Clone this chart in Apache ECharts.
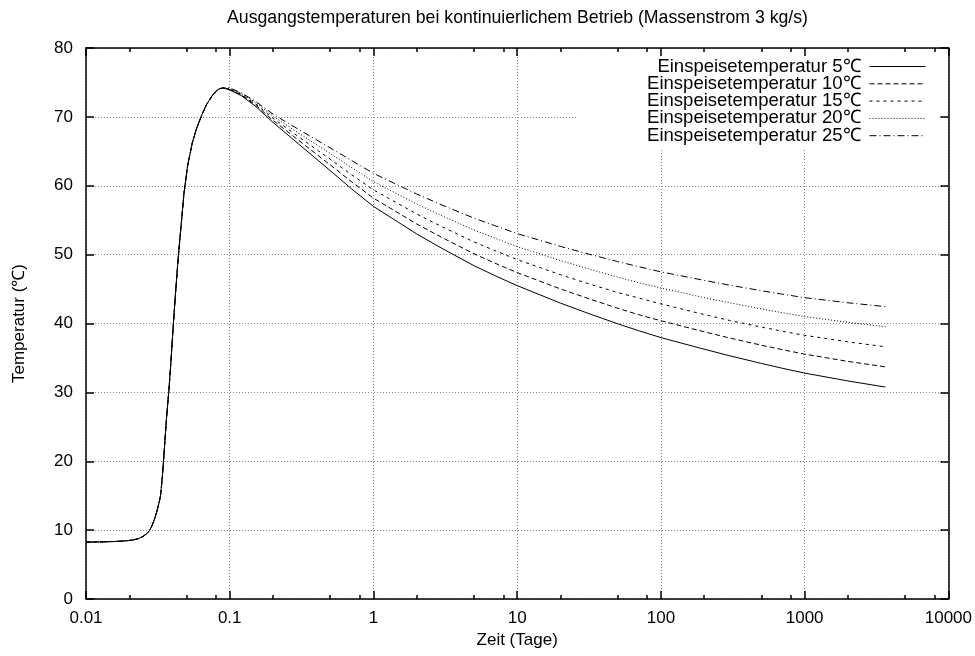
<!DOCTYPE html>
<html>
<head>
<meta charset="utf-8">
<script src="https://cdn.jsdelivr.net/npm/echarts@6/dist/echarts.min.js"></script>
<style>
html, body { margin: 0; padding: 0; background: #fff; }
#chart { width: 975px; height: 656px; }
</style>
</head>
<body>
<div id="chart"></div>
<script>
// ---------- data ----------
const titleText = 'Ausgangstemperaturen bei kontinuierlichem Betrieb (Massenstrom 3 kg/s)';
const xAxisName = 'Zeit (Tage)';
const yAxisName = 'Temperatur (℃)';
const seriesNames = [
  'Einspeisetemperatur 5℃',
  'Einspeisetemperatur 10℃',
  'Einspeisetemperatur 15℃',
  'Einspeisetemperatur 20℃',
  'Einspeisetemperatur 25℃'
];
const xMinorTicks = [0.02, 0.05, 0.08, 0.2, 0.5, 0.8, 2, 5, 8, 20, 50, 80, 200, 500, 800, 2000, 5000, 8000];
const yTicks = [0, 10, 20, 30, 40, 50, 60, 70, 80];

// common start-up part (identical for all feed temperatures)
const riseDays = [0.01, 0.013, 0.016, 0.019, 0.021, 0.023, 0.025, 0.0265, 0.0278, 0.029, 0.030, 0.031, 0.032, 0.033, 0.034, 0.0345, 0.0354, 0.0364, 0.0378, 0.039, 0.0405, 0.042, 0.0438, 0.046, 0.048, 0.051, 0.055, 0.059, 0.064, 0.069, 0.075, 0.08, 0.085, 0.09];
const riseTemp = [8.25, 8.3, 8.35, 8.45, 8.55, 8.75, 9.1, 9.5, 10.0, 10.8, 11.6, 12.6, 13.7, 15.0, 17.8, 19.6, 23.0, 26.5, 30.5, 34.5, 39.8, 44.5, 49.5, 54.5, 58.8, 63.0, 66.3, 68.4, 70.3, 71.8, 73.0, 73.7, 74.1, 74.2];

// decay part, one array per feed temperature
const decayDays = [0.1, 0.12, 0.15, 0.2, 0.3, 0.5, 0.7, 1, 2, 3, 5, 7, 10, 20, 30, 50, 70, 100, 200, 300, 500, 700, 1000, 2000, 3650];
const feed5  = [73.9, 73.1, 71.6, 69.2, 66.1, 62.2, 59.6, 57.0, 53.0, 50.9, 48.4, 46.95, 45.5, 42.96, 41.6, 39.96, 38.96, 37.95, 36.27, 35.32, 34.2, 33.5, 32.8, 31.66, 30.77];
const feed10 = [73.98, 73.2, 71.78, 69.5, 66.63, 63.03, 60.63, 58.2, 54.45, 52.48, 50.13, 48.76, 47.39, 45.02, 43.75, 42.22, 41.28, 40.4, 38.8, 37.9, 36.85, 36.2, 35.55, 34.5, 33.7];
const feed15 = [74.05, 73.3, 71.95, 69.8, 67.15, 63.85, 61.65, 59.4, 55.9, 54.05, 51.85, 50.58, 49.28, 47.08, 45.9, 44.5, 43.7, 42.85, 41.3, 40.45, 39.48, 38.88, 38.28, 37.34, 36.61];
const feed20 = [74.13, 73.4, 72.13, 70.1, 67.68, 64.68, 62.68, 60.6, 57.35, 55.63, 53.58, 52.39, 51.16, 49.14, 48.04, 46.73, 45.93, 45.15, 43.76, 43.01, 42.12, 41.57, 41.01, 40.17, 39.53];
const feed25 = [74.2, 73.5, 72.3, 70.4, 68.2, 65.5, 63.7, 61.8, 58.8, 57.2, 55.3, 54.2, 53.05, 51.2, 50.19, 48.99, 48.25, 47.5, 46.26, 45.57, 44.76, 44.26, 43.75, 43.01, 42.45];

// ---------- chart ----------
const FONT = "'Liberation Sans', Arial, sans-serif";
const feeds = [feed5, feed10, feed15, feed20, feed25];
const dashes = ['solid', [5, 3], [3, 4], [1, 2], [7, 3, 1, 3]];

function buildPoints(decay) {
  const pts = riseDays.map((d, i) => [d, riseTemp[i]]);
  decayDays.forEach((d, i) => pts.push([d, decay[i]]));
  return pts;
}

function fmtX(v) {
  const e = Math.round(Math.log10(v));
  return e < 0 ? v.toFixed(-e) : String(Math.round(v));
}

const axisLineStyle = { color: '#000', width: 1.5 };
const tickStyle = { color: '#000', width: 1.5 };
const gridLineStyle = { color: '#888', width: 1, type: [1, 2] };

const option = {
  animation: false,
  backgroundColor: '#fff',
  title: {
    text: titleText,
    left: 227, top: 9, padding: 0,
    textStyle: { fontFamily: FONT, fontSize: 17.7, fontWeight: 'normal', color: '#000' }
  },
  grid: { left: 86, right: 26, top: 48, bottom: 57, containLabel: false },
  legend: seriesNames.map((n, i) => ({
    data: [n],
    orient: 'vertical',
    align: 'right',
    right: 49,
    top: 57 + i * 17.3,
    padding: 0,
    itemWidth: 56,
    itemHeight: 16,
    selectedMode: false,
    itemStyle: { color: 'rgba(0,0,0,0)', borderWidth: 0, opacity: 0 },
    lineStyle: { width: 1 },
    textStyle: { fontFamily: FONT, fontSize: 18.5, color: '#000', lineHeight: 16, padding: [0, 4, 0, 0] }
  })),
  graphic: [{
    type: 'rect', z: 1, silent: true,
    shape: { x: 578, y: 49, width: 362, height: 101 },
    style: { fill: '#fff' }
  }],
  xAxis: [
    {
      type: 'log', logBase: 10, min: 0.01, max: 10000, position: 'bottom', z: 0,
      name: xAxisName, nameLocation: 'middle', nameGap: 31,
      nameTextStyle: { fontFamily: FONT, fontSize: 17, color: '#000' },
      axisLine: { show: true, lineStyle: axisLineStyle },
      axisTick: { show: true, inside: true, length: 8, lineStyle: tickStyle },
      axisLabel: { formatter: fmtX, fontFamily: FONT, fontSize: 17, color: '#000', margin: 11 },
      splitLine: { show: true, lineStyle: gridLineStyle },
      minorTick: { show: false }
    },
    {
      type: 'log', logBase: 10, min: 0.01, max: 10000, position: 'bottom', z: 5,
      axisLine: { show: false },
      axisTick: { show: true, inside: true, length: 4, lineStyle: tickStyle, customValues: xMinorTicks },
      axisLabel: { show: false },
      splitLine: { show: false }
    },
    {
      type: 'log', logBase: 10, min: 0.01, max: 10000, position: 'top', z: 5,
      axisLine: { show: true, lineStyle: axisLineStyle },
      axisTick: { show: true, inside: true, length: 8, lineStyle: tickStyle },
      axisLabel: { show: false },
      splitLine: { show: false }
    },
    {
      type: 'log', logBase: 10, min: 0.01, max: 10000, position: 'top', z: 5,
      axisLine: { show: false },
      axisTick: { show: true, inside: true, length: 4, lineStyle: tickStyle, customValues: xMinorTicks },
      axisLabel: { show: false },
      splitLine: { show: false }
    }
  ],
  yAxis: [
    {
      type: 'value', min: yTicks[0], max: yTicks[yTicks.length - 1], interval: 10, position: 'left', z: 0,
      name: yAxisName, nameLocation: 'middle', nameGap: 58,
      nameTextStyle: { fontFamily: FONT, fontSize: 17, color: '#000' },
      axisLine: { show: true, lineStyle: axisLineStyle },
      axisTick: { show: true, inside: true, length: 8, lineStyle: tickStyle },
      axisLabel: { fontFamily: FONT, fontSize: 17, color: '#000', margin: 13 },
      splitLine: { show: true, lineStyle: gridLineStyle }
    },
    {
      type: 'value', min: yTicks[0], max: yTicks[yTicks.length - 1], interval: 10, position: 'right', z: 5,
      axisLine: { show: true, lineStyle: axisLineStyle },
      axisTick: { show: true, inside: true, length: 8, lineStyle: tickStyle },
      axisLabel: { show: false },
      splitLine: { show: false }
    }
  ],
  series: seriesNames.map((n, i) => ({
    name: n,
    type: 'line',
    xAxisIndex: 0,
    yAxisIndex: 0,
    data: buildPoints(feeds[i]),
    symbol: 'none',
    showSymbol: false,
    smooth: false,
    z: 2,
    itemStyle: { color: '#000' },
    lineStyle: { color: '#000', width: 1, type: dashes[i] }
  }))
};

const chart = echarts.init(document.getElementById('chart'), null, { renderer: 'canvas' });
chart.setOption(option);
</script>
</body>
</html>
